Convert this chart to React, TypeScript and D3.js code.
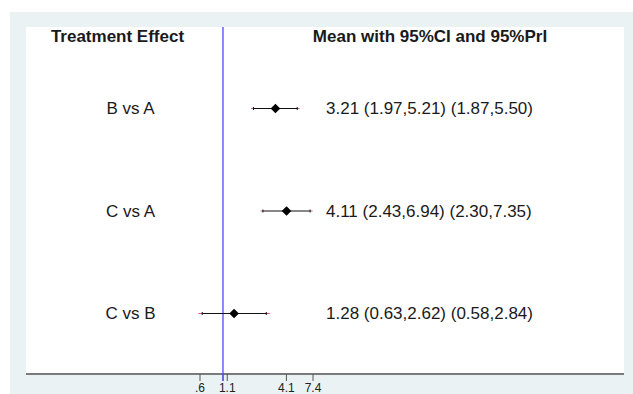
import * as d3 from "d3";

const WIDTH = 633;
const HEIGHT = 394;
const OUTER = { left: 10, top: 12 };
const PLOT = { left: 26, right: 624, top: 27, bottom: 374 };
const FONT = "'Liberation Sans', Arial, Helvetica, sans-serif";

const comparisons = ["B vs A", "C vs A", "C vs B"];
const means = [3.21, 4.11, 1.28];
const ciLow = [1.97, 2.43, 0.63];
const ciHigh = [5.21, 6.94, 2.62];
const priLow = [1.87, 2.3, 0.58];
const priHigh = [5.5, 7.35, 2.84];
const tickValues = [0.6, 1, 1.1, 4.1, 7.4];
const tickLabels = [".6", "", "1.1", "4.1", "7.4"];
const nullValue = 1;

const fmt = d3.format(".2f");

// square rotated 45deg, like Stata's diamond marker
const diamond = (r: number) => `M0,${-r}L${r},0L0,${r}L${-r},0Z`;

export default function App() {
  const x = d3.scaleLog().domain([0.6, 7.4]).range([200, 313]);
  const y = d3
    .scalePoint()
    .domain(comparisons)
    .range([108.5, 313.5]);

  return (
    <svg
      width={WIDTH}
      height={HEIGHT}
      style={{ position: "absolute", left: 0, top: 0, fontFamily: FONT }}
    >
      <rect width={WIDTH} height={HEIGHT} fill="#ffffff" />
      <rect
        x={OUTER.left}
        y={OUTER.top}
        width={WIDTH - OUTER.left}
        height={HEIGHT - OUTER.top}
        fill="#eaf2f3"
      />
      <rect
        x={PLOT.left}
        y={PLOT.top}
        width={PLOT.right - PLOT.left}
        height={PLOT.bottom - PLOT.top}
        fill="#ffffff"
      />

      <text x={117.5} y={41.5} textAnchor="middle" fontSize={17} fontWeight="bold" fill="#1a1a1a">
        Treatment Effect
      </text>
      <text x={430} y={41.5} textAnchor="middle" fontSize={17} fontWeight="bold" fill="#1a1a1a">
        Mean with 95%CI and 95%PrI
      </text>

      {/* axis */}
      <line x1={PLOT.left} x2={PLOT.right} y1={PLOT.bottom} y2={PLOT.bottom} stroke="#7a7a7a" strokeWidth={2} />
      {tickValues.map((t, i) => (
        <g key={`tick-${t}`}>
          <line x1={x(t)} x2={x(t)} y1={PLOT.bottom} y2={PLOT.bottom + 7} stroke="#555" strokeWidth={1} />
          {tickLabels[i] && (
            <text x={x(t)} y={PLOT.bottom + 18} textAnchor="middle" fontSize={12} fill="#222">
              {tickLabels[i]}
            </text>
          )}
        </g>
      ))}

      {/* null line */}
      <line
        x1={x(nullValue)}
        x2={x(nullValue)}
        y1={PLOT.top}
        y2={PLOT.bottom + 7}
        stroke="#4a4aff"
        strokeWidth={1.3}
      />

      {comparisons.map((label, i) => {
        const cy = y(label) as number;
        return (
          <g key={label}>
            <text x={130.5} y={cy} dy="0.35em" textAnchor="middle" fontSize={17} fill="#1a1a1a">
              {label}
            </text>
            <line x1={x(priLow[i])} x2={x(ciLow[i])} y1={cy} y2={cy} stroke="#e0607a" strokeWidth={1} />
            <line x1={x(ciHigh[i])} x2={x(priHigh[i])} y1={cy} y2={cy} stroke="#e0607a" strokeWidth={1} />
            <line x1={x(ciLow[i])} x2={x(ciHigh[i])} y1={cy} y2={cy} stroke="#111" strokeWidth={1} />
            <line x1={x(ciLow[i])} x2={x(ciLow[i])} y1={cy - 1.5} y2={cy + 1.5} stroke="#111" strokeWidth={1} />
            <line x1={x(ciHigh[i])} x2={x(ciHigh[i])} y1={cy - 1.5} y2={cy + 1.5} stroke="#111" strokeWidth={1} />
            <path d={diamond(4.8)} transform={`translate(${x(means[i])},${cy})`} fill="#000" />
            <text x={326} y={cy} dy="0.35em" fontSize={17} fill="#1a1a1a">
              {`${fmt(means[i])} (${fmt(ciLow[i])},${fmt(ciHigh[i])}) (${fmt(priLow[i])},${fmt(priHigh[i])})`}
            </text>
          </g>
        );
      })}
    </svg>
  );
}
